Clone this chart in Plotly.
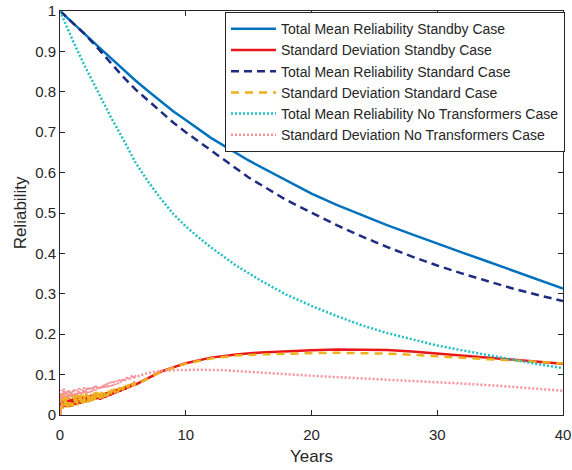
import plotly.graph_objects as go

# ---- Data ----
t_mean = [0, 1, 2, 3, 4, 5, 6, 7, 8, 9, 10, 12, 15, 18, 20, 22, 24, 26, 28, 30, 32, 34, 36, 38, 40]
mean_standby = [1.0, 0.972, 0.942, 0.913, 0.884, 0.856, 0.828, 0.802, 0.776, 0.752, 0.73, 0.686, 0.63,
                0.58, 0.548, 0.52, 0.494, 0.47, 0.447, 0.424, 0.402, 0.38, 0.358, 0.335, 0.313]
mean_standard = [1.0, 0.972, 0.942, 0.908, 0.872, 0.838, 0.806, 0.778, 0.75, 0.724, 0.7, 0.655, 0.588,
                 0.532, 0.5, 0.47, 0.442, 0.416, 0.392, 0.37, 0.35, 0.331, 0.313, 0.297, 0.282]

t_notr = [0, 1, 2, 3, 4, 5, 6, 7, 8, 9, 10, 11, 12, 14, 16, 18, 20, 22, 24, 26, 28, 30, 32, 34, 36, 38, 40]
mean_notr = [1.0, 0.928, 0.862, 0.8, 0.74, 0.684, 0.625, 0.578, 0.536, 0.498, 0.467, 0.44, 0.415, 0.37,
             0.332, 0.298, 0.27, 0.245, 0.222, 0.203, 0.187, 0.172, 0.16, 0.148, 0.137, 0.126, 0.116]

# standard deviation curves (noisy at the start)
t_std = [0.0, 0.1, 0.2, 0.3, 0.4, 0.5, 0.6, 0.7, 0.8, 0.9, 1.0, 1.1, 1.2, 1.3, 1.4, 1.5, 1.6, 1.7, 1.8, 1.9,
         2.0, 2.1, 2.2, 2.3, 2.4, 2.5, 2.6, 2.7, 2.8, 2.9, 3.0,
         3.1, 3.2, 3.3, 3.4, 3.5, 3.6, 3.7, 3.8, 3.9, 4.0, 4.1, 4.2, 4.3, 4.4, 4.5, 4.6, 4.7, 4.8, 4.9,
         5.0, 5.1, 5.2, 5.3, 5.4, 5.5, 5.6, 5.7, 5.8, 5.9, 6.0,
         6.5, 7.0, 7.5, 8.0, 9.0, 10.0, 12.0, 14.0, 16.0, 18.0, 20.0, 22.0, 24.0, 26.0, 28.0, 30.0,
         32.0, 34.0, 36.0, 38.0, 40.0]
std_standby = [0.0, 0.035, 0.018, 0.04, 0.02, 0.038, 0.022, 0.042, 0.02, 0.04, 0.024, 0.043, 0.025, 0.042,
               0.026, 0.044, 0.028, 0.045, 0.03, 0.046, 0.031, 0.047, 0.033, 0.048, 0.034, 0.05, 0.036,
               0.051, 0.038, 0.053, 0.04,
               0.05, 0.038, 0.052, 0.041, 0.054, 0.043, 0.056, 0.046, 0.058, 0.048, 0.06, 0.051, 0.062,
               0.053, 0.064, 0.056, 0.066, 0.058, 0.068, 0.061, 0.07, 0.063, 0.072, 0.066, 0.074, 0.069,
               0.077, 0.072, 0.079, 0.075,
               0.083, 0.092, 0.1, 0.107, 0.118, 0.128, 0.142, 0.15, 0.155, 0.158, 0.16, 0.162, 0.162,
               0.161, 0.157, 0.152, 0.148, 0.143, 0.138, 0.132, 0.127]
std_standard = [0.0, 0.05, 0.015, 0.055, 0.02, 0.05, 0.018, 0.052, 0.022, 0.055, 0.02, 0.05, 0.025, 0.052,
                0.024, 0.05, 0.027, 0.053, 0.028, 0.05, 0.03, 0.054, 0.03, 0.052, 0.033, 0.055, 0.035,
                0.056, 0.037, 0.057, 0.04,
                0.055, 0.04, 0.057, 0.042, 0.058, 0.045, 0.06, 0.047, 0.062, 0.05, 0.063, 0.052, 0.065,
                0.054, 0.066, 0.057, 0.068, 0.059, 0.07, 0.062, 0.072, 0.064, 0.074, 0.067, 0.076, 0.07,
                0.078, 0.072, 0.079, 0.075,
                0.082, 0.09, 0.099, 0.106, 0.117, 0.127, 0.14, 0.147, 0.15, 0.152, 0.153, 0.154, 0.153,
                0.152, 0.149, 0.145, 0.141, 0.138, 0.135, 0.131, 0.128]

t_std_notr = [0.0, 0.1, 0.2, 0.3, 0.4, 0.5, 0.6, 0.7, 0.8, 0.9, 1.0, 1.1, 1.2, 1.3, 1.4, 1.5, 1.6, 1.7, 1.8,
              1.9, 2.0, 2.1, 2.2, 2.3, 2.4, 2.5, 2.6, 2.7, 2.8, 2.9, 3.0,
              3.1, 3.2, 3.3, 3.4, 3.5, 3.6, 3.7, 3.8, 3.9, 4.0, 4.1, 4.2, 4.3, 4.4, 4.5, 4.6, 4.7, 4.8, 4.9,
              5.0, 5.1, 5.2, 5.3, 5.4, 5.5, 5.6, 5.7, 5.8, 5.9, 6.0,
              6.5, 7.0, 7.5, 8.0, 9.0, 10.0, 11.0, 13.0, 15.0, 17.5, 20.0, 22.5, 25.0, 27.5, 30.0,
              32.5, 35.0, 37.5, 40.0]
std_notr = [0.0, 0.062, 0.04, 0.065, 0.045, 0.06, 0.042, 0.063, 0.046, 0.06, 0.048, 0.065, 0.047, 0.062,
            0.05, 0.066, 0.05, 0.064, 0.052, 0.068, 0.053, 0.066, 0.055, 0.07, 0.056, 0.068, 0.058, 0.072,
            0.06, 0.073, 0.062,
            0.072, 0.063, 0.074, 0.065, 0.076, 0.067, 0.078, 0.069, 0.08, 0.071, 0.082, 0.073, 0.083,
            0.075, 0.085, 0.077, 0.087, 0.08, 0.089, 0.082, 0.091, 0.085, 0.093, 0.087, 0.095, 0.089,
            0.097, 0.091, 0.099, 0.094,
            0.1, 0.104, 0.107, 0.109, 0.111, 0.112, 0.112, 0.111, 0.107, 0.101, 0.097, 0.093, 0.089,
            0.085, 0.082, 0.077, 0.072, 0.066, 0.06]

x_ticks = [0, 10, 20, 30, 40]
y_ticks = [0, 0.1, 0.2, 0.3, 0.4, 0.5, 0.6, 0.7, 0.8, 0.9, 1]
y_tick_text = ["0", "0.1", "0.2", "0.3", "0.4", "0.5", "0.6", "0.7", "0.8", "0.9", "1"]

FONT = "Liberation Sans, Arial, sans-serif"
AX = "#262626"

fig = go.Figure()
fig.add_trace(go.Scatter(x=t_mean, y=mean_standby, mode="lines", name="Total Mean Reliability Standby Case",
                         line=dict(color="#0072BD", width=2.5)))
fig.add_trace(go.Scatter(x=t_std, y=std_standby, mode="lines", name="Standard Deviation Standby Case",
                         line=dict(color="#E8161B", width=2.5)))
fig.add_trace(go.Scatter(x=t_mean, y=mean_standard, mode="lines", name="Total Mean Reliability Standard Case",
                         line=dict(color="#1E2B80", width=2.5, dash="8px,5px")))
fig.add_trace(go.Scatter(x=t_std, y=std_standard, mode="lines", name="Standard Deviation Standard Case",
                         line=dict(color="#EDB120", width=2.5, dash="8px,6px")))
fig.add_trace(go.Scatter(x=t_notr, y=mean_notr, mode="lines", name="Total Mean Reliability No Transformers Case",
                         line=dict(color="#20BFC4", width=2.5, dash="2px,2px")))
fig.add_trace(go.Scatter(x=t_std_notr, y=std_notr, mode="lines", name="Standard Deviation No Transformers Case",
                         line=dict(color="#F8929A", width=2.5, dash="2px,2px")))

fig.update_layout(
    width=572, height=470,
    margin=dict(l=60, r=9, t=11, b=55, autoexpand=False),
    paper_bgcolor="white", plot_bgcolor="white",
    font=dict(family=FONT, size=15, color=AX),
    showlegend=True,
    legend=dict(x=0.328, y=0.997, xanchor="left", yanchor="top",
                bgcolor="white", bordercolor=AX, borderwidth=1,
                font=dict(family=FONT, size=14, color=AX),
                itemwidth=45, tracegroupgap=0),
    xaxis=dict(range=[0, 40], tickvals=x_ticks, ticks="inside", ticklen=5, tickcolor=AX,
               showline=True, linecolor=AX, linewidth=1, mirror="ticks", showgrid=False,
               zeroline=False, automargin=False, tickfont=dict(size=15, color=AX),
               ticklabelstandoff=6,
               title=dict(text="Years", font=dict(size=17, color=AX), standoff=8)),
    yaxis=dict(range=[0, 1], tickvals=y_ticks, ticktext=y_tick_text, ticks="inside", ticklen=5,
               tickcolor=AX, showline=True, linecolor=AX, linewidth=1, mirror="ticks",
               showgrid=False, zeroline=False, automargin=False, tickfont=dict(size=15, color=AX),
               title=dict(text="Reliability", font=dict(size=17, color=AX), standoff=4)),
)

# remove the browser's default 8px body margin so the figure sits at the page origin
fig.write_html("out.html", config={"displayModeBar": False},
               post_script="document.body.style.margin='0px';document.body.style.overflow='hidden';")
